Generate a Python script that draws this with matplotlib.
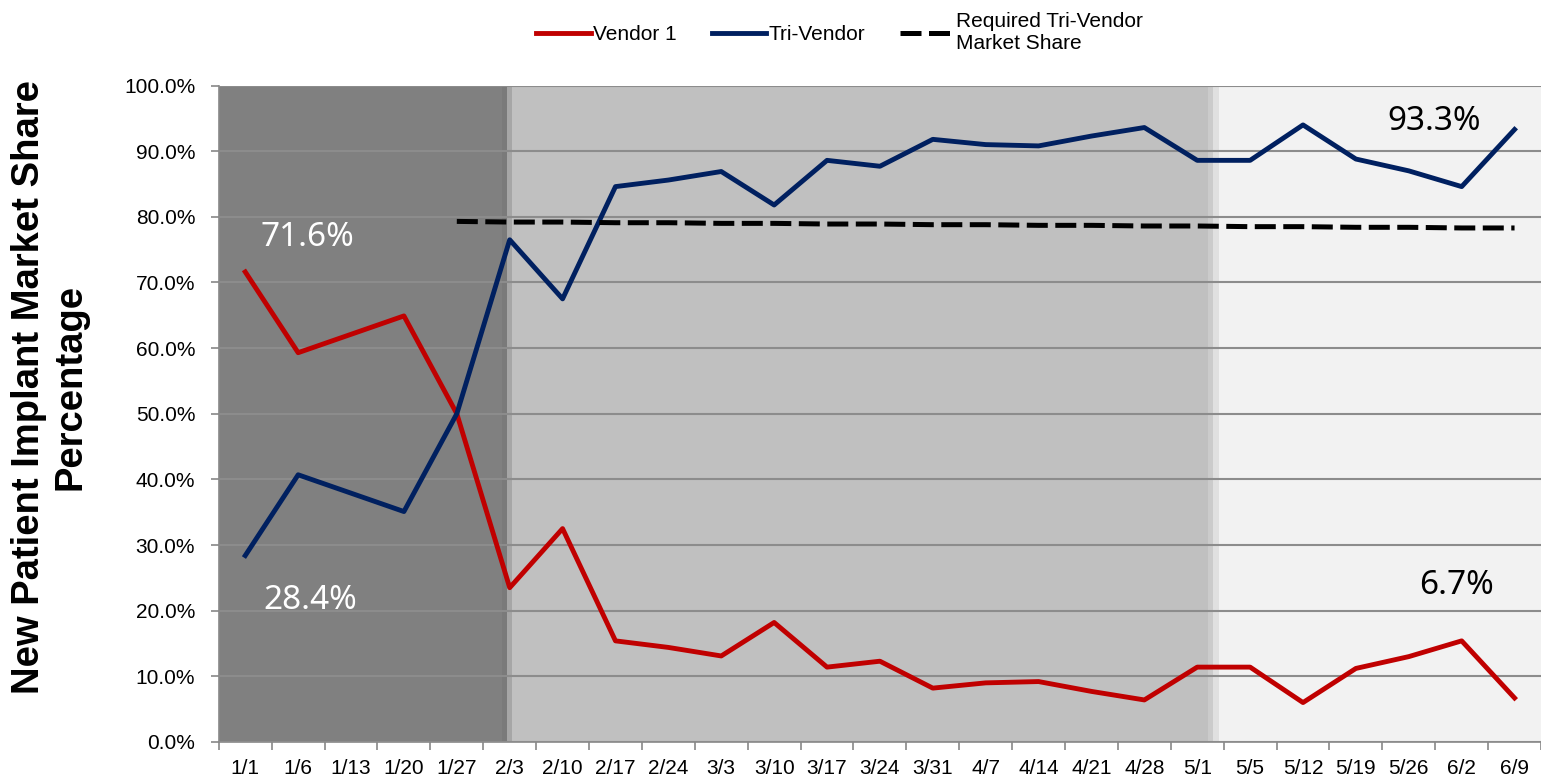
import matplotlib
matplotlib.use("Agg")
import matplotlib.pyplot as plt
from matplotlib.ticker import FuncFormatter, MultipleLocator, FixedLocator
import numpy as np

plt.rcParams['font.family'] = ['Liberation Sans', 'DejaVu Sans']

# weekly categories
weeks = ['1/1', '1/6', '1/13', '1/20', '1/27', '2/3', '2/10', '2/17', '2/24', '3/3',
         '3/10', '3/17', '3/24', '3/31', '4/7', '4/14', '4/21', '4/28', '5/1', '5/5',
         '5/12', '5/19', '5/26', '6/2', '6/9']

# market share values (%)
vendor1 = [71.6, 59.3, 62.1, 64.9, 50.0, 23.5, 32.5, 15.4, 14.4, 13.1,
           18.2, 11.4, 12.3, 8.2, 9.0, 9.2, 7.7, 6.4, 11.4, 11.4,
           6.0, 11.2, 13.0, 15.4, 6.7]
tri_vendor = [28.4, 40.7, 37.9, 35.1, 50.0, 76.5, 67.5, 84.6, 85.6, 86.9,
              81.8, 88.6, 87.7, 91.8, 91.0, 90.8, 92.3, 93.6, 88.6, 88.6,
              94.0, 88.8, 87.0, 84.6, 93.3]
# required share, starting at 1/27
required_weeks = weeks[4:]
required = [79.3, 79.2, 79.2, 79.1, 79.1, 79.0, 79.0, 78.9, 78.9, 78.8, 78.8,
            78.7, 78.7, 78.6, 78.6, 78.5, 78.5, 78.4, 78.4, 78.3, 78.3]

x = np.arange(len(weeks))
x_req = np.array([weeks.index(w) for w in required_weeks])

fig = plt.figure(figsize=(15.41, 7.81), dpi=100)
ax = fig.add_axes([0.142, 0.05, 0.858, 0.8405])

# background phases
ax.axvspan(-0.5, 4.85, color='#808080', lw=0, zorder=0)
ax.axvspan(4.85, 4.95, color='#7a7a7a', lw=0, zorder=0)
ax.axvspan(4.95, 5.05, color='#a6a6a6', lw=0, zorder=0)
ax.axvspan(5.05, 18.2, color='#c0c0c0', lw=0, zorder=0)
ax.axvspan(18.2, 18.3, color='#cbcbcb', lw=0, zorder=0)
ax.axvspan(18.3, 18.42, color='#e0e0e0', lw=0, zorder=0)
ax.axvspan(18.42, 24.5, color='#f2f2f2', lw=0, zorder=0)

ax.plot(x, vendor1, color='#c00000', lw=3.5, label='Vendor 1', zorder=3)
ax.plot(x, tri_vendor, color='#002060', lw=3.5, label='Tri-Vendor', zorder=3)
ax.plot(x_req, required, color='black', lw=3.6, dashes=(4.2, 1.5),
        label='Required Tri-Vendor\nMarket Share', zorder=3)

ax.set_xlim(-0.5, 24.5)
ax.set_ylim(0, 100)
ax.yaxis.set_major_locator(MultipleLocator(10))
ax.yaxis.set_major_formatter(FuncFormatter(lambda v, p: f'{v:.1f}%'))
ax.grid(axis='y', color='#8c8c8c', lw=1.5, zorder=1)
ax.set_axisbelow(False)

ax.set_xticks(x)
ax.set_xticklabels(weeks)
ax.xaxis.set_minor_locator(FixedLocator(np.arange(-0.5, 25, 1)))
ax.tick_params(axis='x', which='major', length=0, pad=12, labelsize=15)
ax.tick_params(axis='x', which='minor', length=6, color='#888888', width=1.2)
ax.tick_params(axis='y', length=6, color='#888888', width=1.2, pad=11, labelsize=15)

for s in ['top', 'right']:
    ax.spines[s].set_visible(False)
for s in ['left', 'bottom']:
    ax.spines[s].set_color('#888888')
    ax.spines[s].set_linewidth(1.2)

# value callouts
ax.text(1.18, 76.8, '71.6%', color='white', fontsize=24, family='Noto Sans',
        ha='center', va='center', zorder=4)
ax.text(1.22, 21.5, '28.4%', color='white', fontsize=24, family='Noto Sans',
        ha='center', va='center', zorder=4)
ax.text(22.47, 94.5, '93.3%', color='black', fontsize=24, family='Noto Sans',
        ha='center', va='center', zorder=4)
ax.text(22.9, 23.9, '6.7%', color='black', fontsize=24, family='Noto Sans',
        ha='center', va='center', zorder=4)

fig.text(0.032, 0.505, 'New Patient Implant Market Share\nPercentage', rotation=90,
         ha='center', va='center', fontsize=27.5, fontweight='bold', linespacing=1.2)

fig.legend(loc='center', bbox_to_anchor=(0.545, 0.958), ncol=3, frameon=False,
           fontsize=15, handlelength=2.6, columnspacing=1.7, handletextpad=0.1,
           borderaxespad=0)

fig.savefig('out.png', dpi=100)
